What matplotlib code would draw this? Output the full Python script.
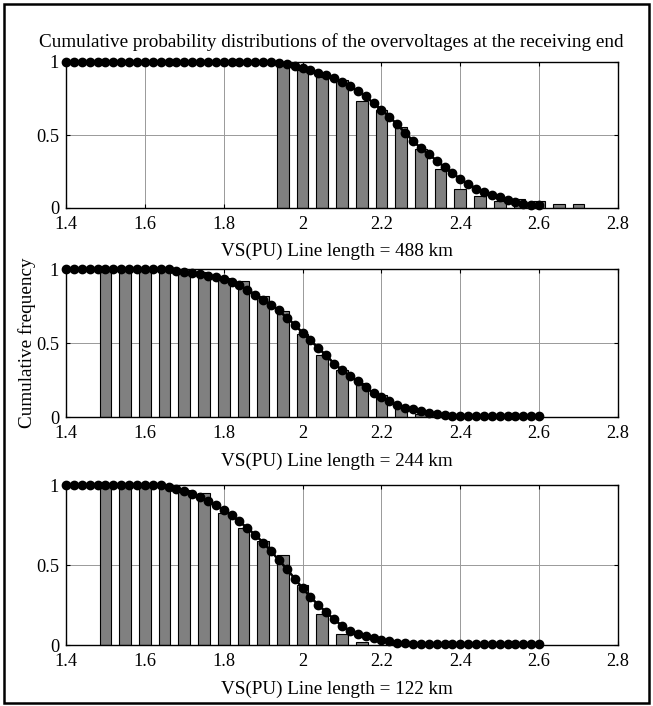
import numpy as np
import matplotlib
matplotlib.use('Agg')
import matplotlib.pyplot as plt
from matplotlib.patches import Rectangle

plt.rcParams['font.family'] = ['Liberation Serif', 'DejaVu Serif']

# voltage samples of the fitted curves (pu)
vs = [1.40, 1.42, 1.44, 1.46, 1.48, 1.50, 1.52, 1.54, 1.56, 1.58,
      1.60, 1.62, 1.64, 1.66, 1.68, 1.70, 1.72, 1.74, 1.76, 1.78,
      1.80, 1.82, 1.84, 1.86, 1.88, 1.90, 1.92, 1.94, 1.96, 1.98,
      2.00, 2.02, 2.04, 2.06, 2.08, 2.10, 2.12, 2.14, 2.16, 2.18,
      2.20, 2.22, 2.24, 2.26, 2.28, 2.30, 2.32, 2.34, 2.36, 2.38,
      2.40, 2.42, 2.44, 2.46, 2.48, 2.50, 2.52, 2.54, 2.56, 2.58, 2.60]

# fitted cumulative curves
cdf_488 = [1.0] * 26 + [
    0.997, 0.993, 0.985, 0.972, 0.958, 0.942, 0.926, 0.910, 0.890, 0.862,
    0.835, 0.800, 0.765, 0.717, 0.673, 0.625, 0.572, 0.515, 0.460, 0.410,
    0.368, 0.325, 0.280, 0.240, 0.198, 0.165, 0.133, 0.110, 0.092, 0.073,
    0.056, 0.041, 0.029, 0.020, 0.018]
cdf_244 = [1.0] * 14 + [
    0.985, 0.978, 0.971, 0.964, 0.956, 0.948, 0.932, 0.914, 0.890, 0.860,
    0.826, 0.793, 0.760, 0.720, 0.670, 0.625, 0.568, 0.520, 0.464, 0.417,
    0.360, 0.318, 0.276, 0.240, 0.200, 0.160, 0.132, 0.108, 0.082, 0.063,
    0.053, 0.040, 0.030, 0.018, 0.011, 0.008] + [0.005] * 11
cdf_122 = [1.0] * 13 + [
    0.988, 0.975, 0.960, 0.945, 0.925, 0.900, 0.873, 0.845, 0.810, 0.772,
    0.730, 0.688, 0.640, 0.587, 0.530, 0.475, 0.415, 0.355, 0.300, 0.250,
    0.205, 0.160, 0.120, 0.090, 0.068, 0.055, 0.043, 0.032, 0.022, 0.015,
    0.010, 0.006] + [0.004] * 16

# histogram bars (cumulative frequency)
bins_488 = [1.95, 2.00, 2.05, 2.10, 2.15, 2.20, 2.25, 2.30, 2.35, 2.40,
            2.45, 2.50, 2.55, 2.60, 2.65, 2.70]
freq_488 = [0.98, 0.947, 0.90, 0.878, 0.73, 0.672, 0.557, 0.404, 0.27, 0.133,
            0.083, 0.048, 0.06, 0.048, 0.025, 0.025]
bins_244 = [1.50, 1.55, 1.60, 1.65, 1.70, 1.75, 1.80, 1.85, 1.90, 1.95,
            2.00, 2.05, 2.10, 2.15, 2.20, 2.25, 2.30]
freq_244 = [1.0, 1.0, 1.0, 1.0, 0.986, 0.977, 0.941, 0.919, 0.817, 0.716,
            0.564, 0.418, 0.316, 0.232, 0.147, 0.068, 0.023]
bins_122 = [1.50, 1.55, 1.60, 1.65, 1.70, 1.75, 1.80, 1.85, 1.90, 1.95,
            2.00, 2.05, 2.10, 2.15]
freq_122 = [1.0, 1.0, 1.0, 1.0, 0.969, 0.948, 0.824, 0.731, 0.649, 0.564,
            0.376, 0.194, 0.066, 0.02]

lengths = ['488', '244', '122']
xticks = [1.4, 1.6, 1.8, 2.0, 2.2, 2.4, 2.6, 2.8]
xtick_labels = ['1.4', '1.6', '1.8', '2', '2.2', '2.4', '2.6', '2.8']
yticks = [0, 0.5, 1]
ytick_labels = ['0', '0.5', '1']

fs = 13.8      # titles and axis labels
tfs = 13.2     # tick labels
fig = plt.figure(figsize=(6.53, 7.06), dpi=100)

# axes boxes in pixels: (top, bottom)
boxes = [(62, 208), (269, 417), (485, 645)]
left_px, right_px = 66, 618
W, H = 653.0, 706.0

panels = [(bins_488, freq_488, cdf_488),
          (bins_244, freq_244, cdf_244),
          (bins_122, freq_122, cdf_122)]

axes = []
for i, (bins, freq, cdf) in enumerate(panels):
    top, bot = boxes[i]
    ax = fig.add_axes([left_px / W, (H - bot) / H, (right_px - left_px) / W, (bot - top) / H])
    ax.bar(bins, freq, width=0.03, color='#808080', edgecolor='black', linewidth=0.8, zorder=2)
    ax.plot(vs, cdf, '-o', color='black', lw=1.8, markersize=6, clip_on=False, zorder=3)
    ax.set_xlim(1.4, 2.8)
    ax.set_ylim(0, 1)
    ax.set_xticks(xticks)
    ax.set_xticklabels(xtick_labels, fontsize=tfs)
    ax.set_yticks(yticks)
    ax.set_yticklabels(ytick_labels, fontsize=tfs)
    ax.tick_params(direction='in', top=True, right=True, length=3, width=0.8)
    ax.tick_params(axis='x', pad=6)
    ax.tick_params(axis='y', pad=5)
    ax.grid(True, color='#999999', linewidth=0.7, zorder=0)
    ax.set_axisbelow(True)
    for sp in ax.spines.values():
        sp.set_linewidth(1.0)
    ax.set_xlabel('VS(PU) Line length = %s km' % lengths[i], fontsize=fs, labelpad=7)
    ax.xaxis.set_label_coords(0.49, -0.24 if i < 2 else -0.22)
    axes.append(ax)

axes[0].set_title('Cumulative probability distributions of the overvoltages at the receiving end',
                  fontsize=fs, pad=11, x=0.48)
axes[1].set_ylabel('Cumulative frequency', fontsize=fs, labelpad=0)

# frame around the whole figure
fig.patches.append(Rectangle((4 / W, 3 / H), 645 / W, 699 / H, transform=fig.transFigure,
                             fill=False, edgecolor='black', linewidth=1.8))

fig.savefig('out.png', dpi=100)
